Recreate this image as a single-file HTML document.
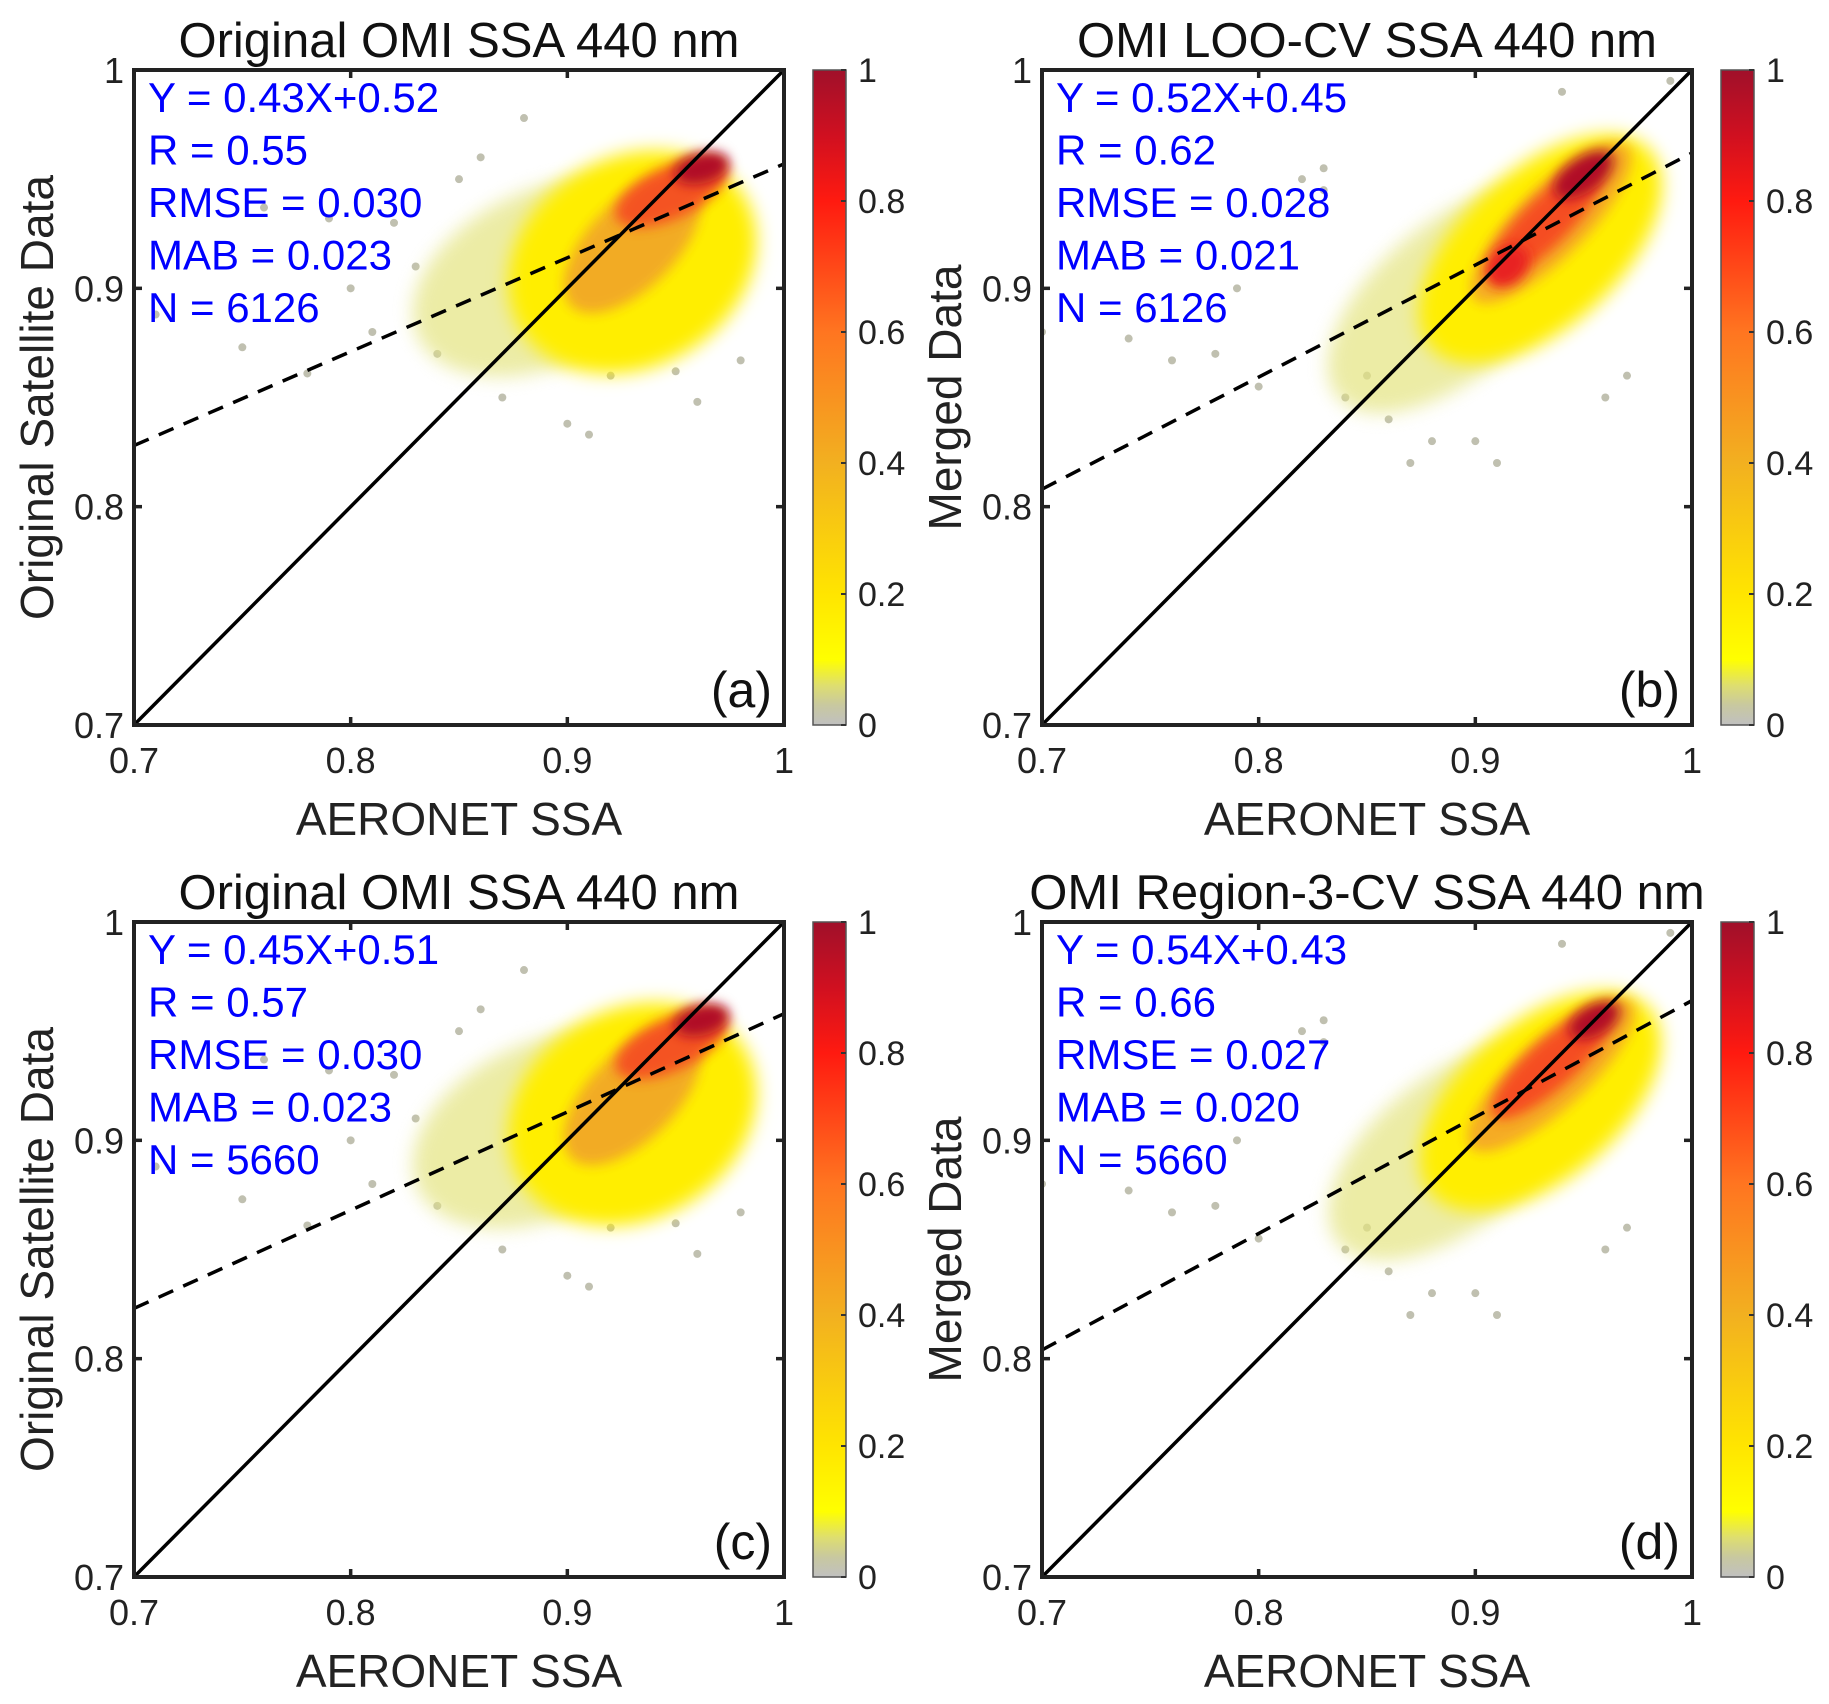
<!DOCTYPE html>
<html><head><meta charset="utf-8">
<style>
html,body{margin:0;padding:0;background:#fff;}
svg{display:block;font-family:"Liberation Sans",Arial,sans-serif;}
</style></head>
<body>
<svg id="fig" width="1829" height="1704" viewBox="0 0 1829 1704" xmlns="http://www.w3.org/2000/svg">
<defs>
<filter id="blur" x="-50%" y="-50%" width="200%" height="200%"><feGaussianBlur stdDeviation="9"/></filter>
<filter id="blur2" x="-50%" y="-50%" width="200%" height="200%"><feGaussianBlur stdDeviation="6"/></filter>
<linearGradient id="cmap" x1="0" y1="1" x2="0" y2="0">
<stop offset="0" stop-color="#c0c0c0"/><stop offset="0.03" stop-color="#c8c8a0"/>
<stop offset="0.06" stop-color="#dede70"/><stop offset="0.1" stop-color="#ffff00"/>
<stop offset="0.2" stop-color="#ffe500"/><stop offset="0.4" stop-color="#f2b020"/>
<stop offset="0.6" stop-color="#ff7520"/><stop offset="0.8" stop-color="#ff1a10"/>
<stop offset="0.9" stop-color="#d01020"/><stop offset="1" stop-color="#a0102a"/>
</linearGradient>
</defs>
</svg>
<script>
// ---- data ----
const panelIds = ['a','b','c','d'];
const titles = ['Original OMI SSA 440 nm','OMI LOO-CV SSA 440 nm','Original OMI SSA 440 nm','OMI Region-3-CV SSA 440 nm'];
const yLabels = ['Original Satellite Data','Merged Data','Original Satellite Data','Merged Data'];
const statsText = [
 ['Y = 0.43X+0.52','R = 0.55','RMSE = 0.030','MAB = 0.023','N = 6126'],
 ['Y = 0.52X+0.45','R = 0.62','RMSE = 0.028','MAB = 0.021','N = 6126'],
 ['Y = 0.45X+0.51','R = 0.57','RMSE = 0.030','MAB = 0.023','N = 5660'],
 ['Y = 0.54X+0.43','R = 0.66','RMSE = 0.027','MAB = 0.020','N = 5660']];
const fitStartY = [0.828, 0.808, 0.823, 0.804];
const fitEndY = [0.957, 0.962, 0.958, 0.964];
const axisTicks = [0.7, 0.8, 0.9, 1];
const axisTickLabels = ['0.7','0.8','0.9','1'];
const cbTicks = [0, 0.2, 0.4, 0.6, 0.8, 1];
const cbTickLabels = ['0','0.2','0.4','0.6','0.8','1'];
// density blobs: [cx, cy, rx, ry (data units), angle deg, color, opacity]
const blobsA = [[0.89,0.905,0.065,0.04,-25,'#e4e480',0.7],[0.93,0.912,0.06,0.048,-30,'#ffee00',1],
 [0.93,0.92,0.04,0.02,-45,'#f2a828',0.95],[0.948,0.944,0.028,0.012,-25,'#f55020',0.95],[0.962,0.955,0.013,0.007,-15,'#b01028',1]];
const blobsB = [[0.89,0.895,0.07,0.035,-40,'#e4e480',0.7],[0.93,0.918,0.068,0.036,-42,'#ffee00',1],
 [0.935,0.93,0.05,0.016,-45,'#f5a828',0.95],[0.932,0.93,0.036,0.011,-45,'#f54a20',0.95],[0.95,0.952,0.016,0.008,-35,'#b01028',1],[0.915,0.91,0.011,0.008,-45,'#e82020',1]];
const blobsC = blobsA;
const blobsD = [[0.89,0.895,0.068,0.035,-38,'#e4e480',0.7],[0.93,0.918,0.066,0.036,-40,'#ffee00',1],
 [0.935,0.93,0.05,0.016,-42,'#f5a828',0.95],[0.935,0.935,0.036,0.011,-42,'#f54a20',0.95],[0.955,0.955,0.013,0.007,-30,'#b01028',1]];
const blobs = [blobsA, blobsB, blobsC, blobsD];
const outX_AC = [0.71,0.75,0.76,0.78,0.8,0.79,0.82,0.83,0.84,0.86,0.87,0.88,0.9,0.91,0.96,0.98,0.95,0.85,0.81,0.92];
const outY_AC = [0.888,0.873,0.937,0.861,0.9,0.932,0.93,0.91,0.87,0.96,0.85,0.978,0.838,0.833,0.848,0.867,0.862,0.95,0.88,0.86];
const outX_BD = [0.70,0.74,0.76,0.78,0.8,0.82,0.83,0.84,0.85,0.86,0.87,0.88,0.9,0.91,0.94,0.96,0.97,0.83,0.79,0.99];
const outY_BD = [0.88,0.877,0.867,0.87,0.855,0.95,0.945,0.85,0.86,0.84,0.82,0.83,0.83,0.82,0.99,0.85,0.86,0.955,0.9,0.995];
const outX = [outX_AC, outX_BD, outX_AC, outX_BD];
const outY = [outY_AC, outY_BD, outY_AC, outY_BD];
// ---- layout ----
const lefts=[134,1042,134,1042], tops=[70,70,922,922], PW=650, PH=655;
const NS='http://www.w3.org/2000/svg';
const svg=document.getElementById('fig');
function mk(tag,attrs,parent){const e=document.createElementNS(NS,tag);for(const k in attrs)e.setAttribute(k,attrs[k]);(parent||svg).appendChild(e);return e;}
function txt(s,attrs,parent){const e=mk('text',attrs,parent);e.textContent=s;return e;}
panelIds.forEach((id,i)=>{
 const L=lefts[i],T=tops[i],R=L+PW,B=T+PH;
 const xs=v=>L+(v-0.7)/0.3*PW, ys=v=>B-(v-0.7)/0.3*PH;
 const g=mk('g',{});
 
 
 const cp=mk('clipPath',{id:'cp'+id},g); mk('rect',{x:L,y:T,width:PW,height:PH},cp);
 const sc=mk('g',{'clip-path':'url(#cp'+id+')'},g);
 
 
 for(let k=0;k<outX[i].length;k++){
  const c=mk('circle',{cx:xs(outX[i][k]),cy:ys(outY[i][k]),r:4,fill:'#c0c0b0'},sc);
  
  
 }
 blobs[i].forEach((b,k)=>{
  const cx=xs(b[0]),cy=ys(b[1]);
  const e=mk('ellipse',{cx:cx,cy:cy,rx:b[2]/0.3*PW,ry:b[3]/0.3*PH,fill:b[5],opacity:b[6],filter:k<2?'url(#blur)':'url(#blur2)',transform:`rotate(${b[4]} ${cx} ${cy})`},sc);
  
  
 });
 const d=mk('line',{x1:xs(0.7),y1:ys(0.7),x2:xs(1),y2:ys(1),stroke:'#000','stroke-width':3.5},sc);
 
 
 const f=mk('line',{x1:xs(0.7),y1:ys(fitStartY[i]),x2:xs(1),y2:ys(fitEndY[i]),stroke:'#000','stroke-width':3.5,'stroke-dasharray':'16,11'},sc);
 
 
 const box=mk('rect',{x:L,y:T,width:PW,height:PH,fill:'none',stroke:'#222','stroke-width':4},g);
 
 
 axisTicks.forEach((t,k)=>{
  const x=xs(t),y=ys(t);
  mk('line',{x1:x,y1:B,x2:x,y2:B-8,stroke:'#222','stroke-width':3.5},g);
  mk('line',{x1:x,y1:T,x2:x,y2:T+8,stroke:'#222','stroke-width':3.5},g);
  mk('line',{x1:L,y1:y,x2:L+8,y2:y,stroke:'#222','stroke-width':3.5},g);
  mk('line',{x1:R,y1:y,x2:R-8,y2:y,stroke:'#222','stroke-width':3.5},g);
  const xt=txt(axisTickLabels[k],{x:x,y:B+48,'font-size':36,'text-anchor':'middle',fill:'#222'},g);
  
  
  const yt=txt(axisTickLabels[k],{x:L-10,y:y+13,'font-size':36,'text-anchor':'end',fill:'#222'},g);
  
  
 });
 const ti=txt(titles[i],{x:L+PW/2,y:T-13,'font-size':49,'text-anchor':'middle',fill:'#111'},g);
 
 
 const xl=txt('AERONET SSA',{x:L+PW/2,y:B+110,'font-size':46,'text-anchor':'middle',fill:'#222'},g);
 
 
 const ylx=L-81, yly=T+PH/2;
 const yl=txt(yLabels[i],{x:ylx,y:yly,'font-size':46,'text-anchor':'middle',transform:`rotate(-90 ${ylx} ${yly})`,fill:'#222'},g);
 
 
 statsText[i].forEach((s,k)=>{
  const st=txt(s,{x:L+14,y:T+42+k*52.5,'font-size':42,fill:'#0000ff'},g);
  
  
 });
 const pl=txt('('+id+')',{x:R-12,y:B-18,'font-size':50,'text-anchor':'end',fill:'#111'},g);
 
 
 // colorbar
 const cbx=R+29, cbw=33;
 const cb=mk('rect',{x:cbx,y:T,width:cbw,height:PH,fill:'url(#cmap)',stroke:'#555','stroke-width':1.5},g);
 
 
 cbTicks.forEach((t,k)=>{
  const y=B-t*PH;
  mk('line',{x1:cbx+cbw-5,y1:y,x2:cbx+cbw,y2:y,stroke:'#333','stroke-width':2},g);
  const ct=txt(cbTickLabels[k],{x:cbx+cbw+12,y:y+12,'font-size':34,fill:'#222'},g);
  
  
 });
});
</script>
</body></html>
